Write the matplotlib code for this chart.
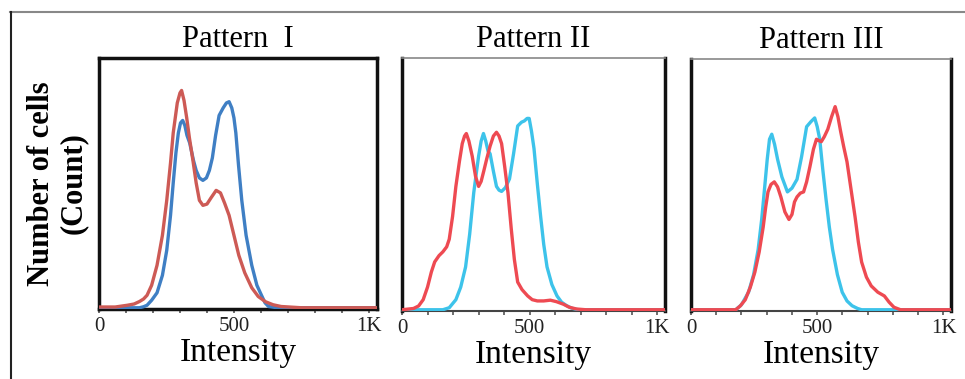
import matplotlib.pyplot as plt
from matplotlib.lines import Line2D

# Panel I (red / blue)
p1_red_x = [0, 60, 105, 130, 150, 165, 178, 195, 215, 235, 251, 265, 275, 290, 300, 306, 315, 325,
            335, 348, 360, 372, 385, 400, 415, 434, 450, 465, 482, 500, 518, 540, 566, 590, 617, 645,
            675, 750, 1030]
p1_red_y = [0.3, 0.3, 1.0, 1.5, 2.5, 3.5, 5, 9, 17, 29, 43, 58, 70, 82, 86, 87, 83, 76,
            68, 59, 50, 43, 41, 41.5, 44, 47, 46, 42, 37, 29, 21, 14, 8, 4.5, 2.4, 1.2,
            0.5, 0, 0]
p1_blue_x = [0, 150, 165, 178, 195, 215, 235, 251, 265, 275, 285, 294, 302, 310, 318, 326, 336,
             350, 360, 372, 385, 398, 409, 420, 432, 445, 460, 472, 482, 492, 500, 507, 517, 529,
             545, 566, 585, 602, 615, 628, 660, 1030]
p1_blue_y = [0, 0, 0.4, 1, 3, 6, 13, 23, 37, 50, 62, 70, 74, 75, 73, 69, 66,
             59, 55, 52, 51, 52, 55, 60, 69, 77, 80, 82, 82.5, 80, 76, 70, 57, 43,
             29, 17, 9, 5, 2, 0.5, 0, 0]

# Panel II (red / cyan)
p2_red_x = [0, 45, 65, 83, 100, 115, 128, 145, 160, 175, 185, 198, 211, 225, 236, 245, 252, 262,
            275, 288, 300, 310, 320, 332, 345, 358, 370, 380, 390, 402, 415, 428, 440, 453, 470,
            492, 510, 530, 555, 581, 605, 632, 655, 683, 720, 1030]
p2_red_y = [0, 0.5, 1.5, 4, 9, 15, 19, 21.5, 23, 25, 28, 37, 49, 59, 66, 69, 70, 67,
            61, 53, 49, 51, 55, 60, 65, 69, 70.5, 69, 66, 57, 46.5, 32, 20, 11, 8,
            5.5, 4, 3.5, 3.5, 3.8, 3.2, 2.2, 1, 0.3, 0, 0]
p2_cyan_x = [0, 160, 185, 211, 230, 249, 265, 281, 292, 300, 310, 319, 328, 337, 345, 358, 370,
             380, 390, 405, 421, 437, 453, 468, 479, 490, 498, 507, 517, 530, 543, 555, 568, 587,
             607, 625, 645, 665, 690, 1030]
p2_cyan_y = [0, 0, 0.8, 4, 9, 17, 30, 46.5, 55, 61, 67, 70, 67, 63, 62, 55, 49,
             47.5, 47, 48.5, 52, 62, 73, 74.5, 75, 76, 76, 71, 64, 50, 37, 26, 17, 10,
             5.5, 3, 1.6, 0.6, 0, 0]

# Panel III (red / cyan)
p3_red_x = [0, 177, 195, 215, 235, 253, 270, 286, 296, 305, 317, 330, 343, 356, 372, 388, 400,
            410, 420, 433, 446, 458, 471, 485, 497, 506, 516, 528, 542, 557, 571, 582, 593, 605,
            618, 634, 650, 663, 676, 695, 714, 740, 766, 785, 804, 830, 1030]
p3_red_y = [0, 0, 1.5, 4, 9, 15, 23, 33, 41, 47, 50, 51, 49, 45, 39, 36, 38,
            43, 45, 46.5, 47, 51, 57, 64, 68, 67.5, 67, 69, 72, 77, 81, 77, 71, 65,
            59, 48, 37, 27, 19, 13, 9.5, 7, 5.5, 3, 1, 0, 0]
p3_cyan_x = [0, 177, 200, 228, 248, 266, 280, 292, 302, 311, 320, 331, 343, 360, 382, 400, 420,
             438, 458, 475, 490, 500, 510, 522, 535, 548, 561, 580, 599, 618, 638, 660, 676, 1030]
p3_cyan_y = [0, 0, 2, 7, 14, 24, 36, 49, 60, 68, 70, 66, 60, 53, 47, 48.5, 52,
             61, 73, 75, 76.5, 73, 68, 56, 44, 33, 24, 14, 7, 3.5, 1.6, 0.5, 0, 0]

titles = ['Pattern  I', 'Pattern II', 'Pattern III']
tick_vals = [0, 500, 1000]
tick_labels = ['0', '500', '1K']

RED1, BLUE1 = '#cd5a55', '#3f7fc4'
RED2, CYAN2 = '#ee4a52', '#3dc3ea'
SERIF = ['Liberation Serif', 'DejaVu Serif']

fig = plt.figure(figsize=(9.65, 3.79), dpi=100)

# outer frame of the figure
fig.add_artist(Line2D([10 / 965, 1], [1 - 12 / 379] * 2, color='#888888', lw=1.5))
fig.add_artist(Line2D([11 / 965] * 2, [0, 1 - 12 / 379], color='#222222', lw=1.5))

boxes = [
    [99 / 965, 70 / 379, 278 / 965, 251 / 379],
    [402 / 965, 68 / 379, 263 / 965, 253 / 379],
    [691 / 965, 68 / 379, 260 / 965, 252 / 379],
]
series = [
    [(p1_red_x, p1_red_y, RED1), (p1_blue_x, p1_blue_y, BLUE1)],
    [(p2_red_x, p2_red_y, RED2), (p2_cyan_x, p2_cyan_y, CYAN2)],
    [(p3_red_x, p3_red_y, RED2), (p3_cyan_x, p3_cyan_y, CYAN2)],
]
orders = [[1, 0], [1, 0], [1, 0]]

for i, box in enumerate(boxes):
    ax = fig.add_axes(box)
    for k in orders[i]:
        x, y, c = series[i][k]
        ax.plot(x, y, color=c, lw=2.4, solid_joinstyle='round', solid_capstyle='round', zorder=3)
    ax.set_xlim(0, 1030)
    ax.set_ylim(-0.5, 100)
    ax.set_yticks([])
    ax.set_xticks(tick_vals)
    ax.set_xticklabels(tick_labels, fontfamily=SERIF, fontsize=15, color='#222222')
    ax.set_xticks(range(0, 1001, 100), minor=True)
    ax.tick_params(axis='x', which='both', length=3, width=1.2, color='#555555', pad=3)
    for s in ax.spines.values():
        s.set_color('#111111')
        s.set_linewidth(2.5)
    if i > 0:
        ax.spines['top'].set_color('#888888')
        ax.spines['top'].set_linewidth(1.2)
        ax.spines['bottom'].set_color('#444444')
        ax.spines['bottom'].set_linewidth(1.5)
    ax.set_title(titles[i], fontfamily=SERIF, fontsize=22, pad=8)
    ax.set_xlabel('Intensity', fontfamily=SERIF, fontsize=24, labelpad=1)
    if i == 0:
        ax.set_ylabel('Number of cells\n(Count)', fontfamily=SERIF, fontsize=22,
                      fontweight='bold', linespacing=1.15, labelpad=8)

fig.savefig('out.png', dpi=100)
